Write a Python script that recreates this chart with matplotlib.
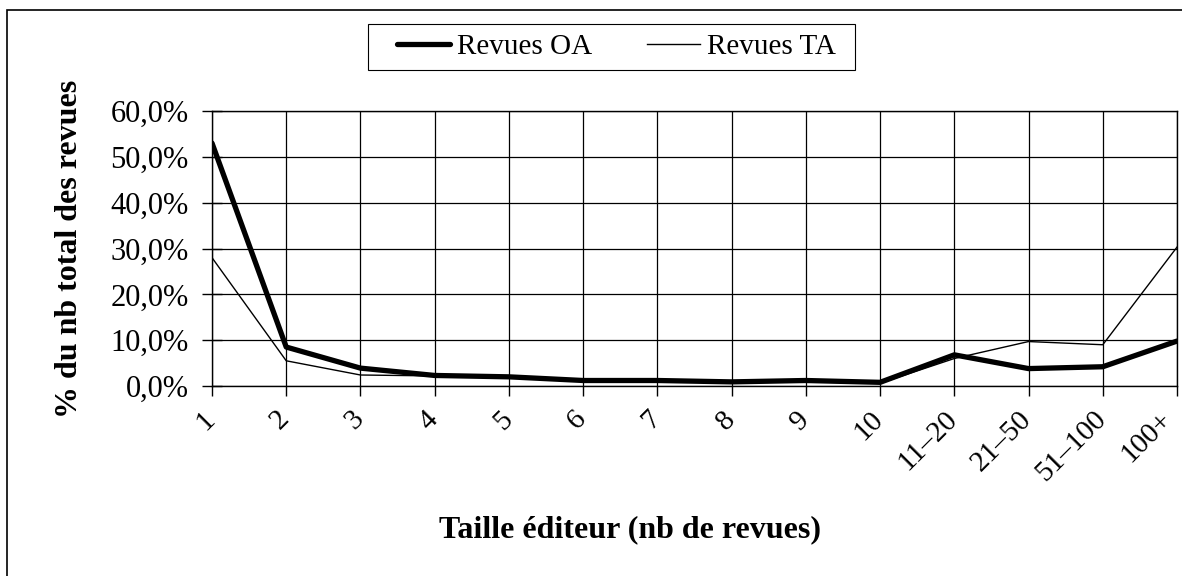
import matplotlib
matplotlib.use('Agg')
import matplotlib.pyplot as plt
import matplotlib.patches as mpatches
import matplotlib.transforms as mtransforms
import numpy as np

# Données
categories = ['1', '2', '3', '4', '5', '6', '7', '8', '9', '10',
              '11\u201320', '21\u201350', '51\u2013100', '100+']
revues_oa = [53.0, 8.5, 3.9, 2.3, 2.0, 1.2, 1.2, 0.9, 1.2, 0.8, 6.8, 3.8, 4.2, 9.8]
revues_ta = [28.0, 5.5, 2.4, 2.2, 1.9, 1.0, 1.0, 0.7, 0.9, 0.6, 6.0, 9.7, 9.0, 30.3]
yticks = [0, 10, 20, 30, 40, 50, 60]

plt.rcParams['font.family'] = ['Liberation Serif', 'DejaVu Serif']

W, H = 1182, 576
fig = plt.figure(figsize=(W/100, H/100), dpi=100)
ax = fig.add_axes([212/W, 1-386/H, (1177-212)/W, (386-111)/H])

x = np.arange(len(categories))
ax.plot(x, revues_oa, color='black', lw=3.8, label='Revues OA', solid_capstyle='round')
ax.plot(x, revues_ta, color='black', lw=1.0, label='Revues TA')

ax.set_xlim(0, len(categories)-1)
ax.set_ylim(0, 60)
ax.set_yticks(yticks)
ax.set_yticklabels(['{:.1f}%'.format(v).replace('.', ',') for v in yticks], fontsize=22)
ax.set_xticks(x)
ax.set_xticklabels(categories, fontsize=21, rotation=45, ha='right', rotation_mode='anchor')
ax.tick_params(axis='y', direction='inout', length=14, width=1, pad=10)
ax.tick_params(axis='x', direction='out', length=7, width=1, pad=6)
# décalage des étiquettes vers la gauche (après tick_params)
labels = ax.get_xticklabels()
for i, lab in enumerate(labels):
    dx = -10 if i < len(labels) - 1 else -18   # la dernière reste dans l'image
    offset = mtransforms.ScaledTranslation(dx/100, -2/100, fig.dpi_scale_trans)
    lab.set_transform(lab.get_transform() + offset)
ax.grid(True, color='black', lw=0.9)
for s in ax.spines.values():
    s.set_color('black')
    s.set_linewidth(1)

ax.set_ylabel('% du nb total des revues', fontsize=23, fontweight='bold', labelpad=19)
ax.set_xlabel('Taille éditeur (nb de revues)', fontsize=23, fontweight='bold')
ax.xaxis.set_label_coords((630-212)/(1177-212), -(530-386)/(386-111))
ax.xaxis.label.set_va('center')

# Légende sans cadre + cadre dessiné à part
leg = fig.legend(loc='center left', bbox_to_anchor=(397/W, 1-47/H), ncol=2, fontsize=21,
                 frameon=False, handlelength=1.8, handletextpad=0.25, columnspacing=1.9,
                 borderpad=0, borderaxespad=0)
fig.patches.append(mpatches.Rectangle((368/W, 1-70/H), (855-368)/W, 46/H,
                                      transform=fig.transFigure, fill=False,
                                      edgecolor='black', lw=0.8))

# Cadre extérieur
fig.patches.append(mpatches.Rectangle((7/W, -0.1), 1.2, 1.1-10/H, transform=fig.transFigure,
                                      fill=False, edgecolor='black', lw=1.2))

fig.savefig('out.png', dpi=100)
